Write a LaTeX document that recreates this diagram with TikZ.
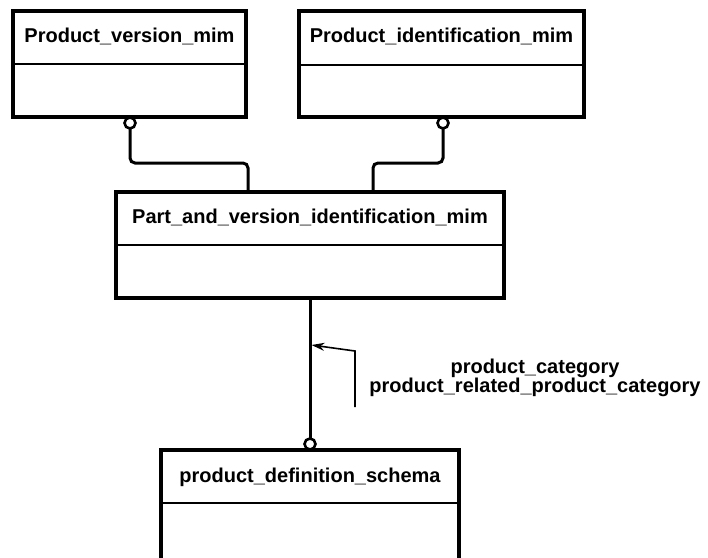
\documentclass[tikz,border=0pt]{standalone}
\usepackage{fontspec}
\setmainfont{Liberation Sans}
\usetikzlibrary{arrows.meta}
\begin{document}
\begin{tikzpicture}[x=1pt,y=-1pt,
  boxframe/.style={draw=black, line width=3.2pt, fill=white, inner sep=0pt, rectangle},
  divider/.style={line width=2pt},
  title/.style={font=\fontsize{20}{20}\selectfont\bfseries, inner sep=0pt, anchor=base},
  conn/.style={line width=3pt, rounded corners=5pt},
  endcirc/.style={circle, draw=black, line width=2.6pt, fill=white, minimum size=11pt, inner sep=0pt},
  leader/.style={line width=1.6pt},
  lbl/.style={font=\fontsize{20}{19}\selectfont\bfseries, inner sep=0pt, anchor=base, align=center}]
\useasboundingbox (0,0) rectangle (708,557);
\clip (0,0) rectangle (708,557);
\fill[white] (0,0) rectangle (708,557);

% boxes
\node[boxframe, minimum width=233pt, minimum height=106pt] (pv) at (129.5,64) {};
\draw[divider] (pv.west |- 0,64) -- (pv.east |- 0,64);
\node[title] (pvt) at (129.5,42) {Product\_version\_mim};

\node[boxframe, minimum width=285pt, minimum height=106pt] (pi) at (441.5,64) {};
\draw[divider] (pi.west |- 0,65) -- (pi.east |- 0,65);
\node[title] (pit) at (441.5,42) {Product\_identification\_mim};

\node[boxframe, minimum width=388pt, minimum height=106pt] (pvi) at (310,245) {};
\draw[divider] (pvi.west |- 0,245) -- (pvi.east |- 0,245);
\node[title] (pvit) at (310,223) {Part\_and\_version\_identification\_mim};

\node[boxframe, minimum width=298pt, minimum height=112pt] (pds) at (310,506) {};
\draw[divider] (pds.west |- 0,503) -- (pds.east |- 0,503);
\node[title] (pdst) at (310,482) {product\_definition\_schema};

% connectors
\coordinate (c1p) at (130,123);
\coordinate (c2p) at (443,123);
\coordinate (j1) at (248,192);
\coordinate (j2) at (373,192);
\draw[conn] (c1p) -- (130,163) -| (j1);
\draw[conn] (c2p) -- (443,163) -| (j2);
\node[endcirc] (c1) at (c1p) {};
\node[endcirc] (c2) at (c2p) {};

\coordinate (c3p) at (310,444);
\draw[conn] (pvi.south) -- (c3p);
\node[endcirc] (c3) at (c3p) {};

% leader with label
\coordinate (lead) at (355,407);
\coordinate (hit) at (311.5,345);
\draw[leader, -{Stealth[length=13pt,width=8pt]}] (lead) -- (355,351) -- (hit);
\node[lbl] (lab) at (535,392) {product\_category\\product\_related\_product\_category};
\end{tikzpicture}
\end{document}
